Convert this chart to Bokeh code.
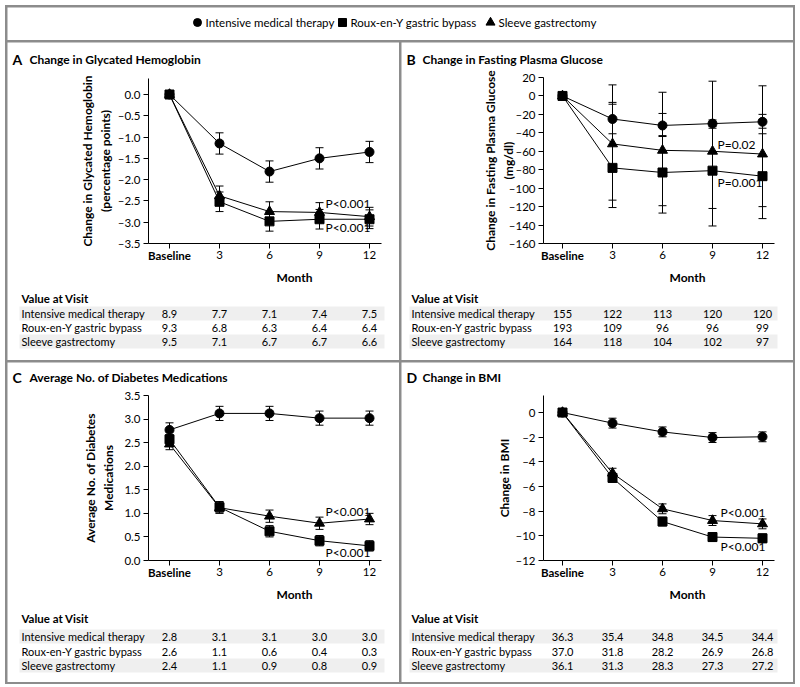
from bokeh.plotting import figure
from bokeh.layouts import column, row
from bokeh.models import Range1d, FixedTicker, CustomJSTickFormatter
from bokeh.core.properties import value
from bokeh.embed import file_html
from bokeh.resources import INLINE

FONT = "Lato"

# ---------------- data ----------------
months = ["Baseline", "3", "6", "9", "12"]
groups = ["Intensive medical therapy", "Roux-en-Y gastric bypass", "Sleeve gastrectomy"]
markers = ["circle", "square", "triangle"]

# A: change in glycated hemoglobin (percentage points)
a_int = [0.0, -1.15, -1.81, -1.50, -1.35]
a_int_err = [0.0, 0.25, 0.25, 0.25, 0.25]
a_roux = [0.0, -2.52, -2.98, -2.93, -2.93]
a_roux_err = [0.0, 0.23, 0.23, 0.23, 0.22]
a_sleeve = [0.0, -2.38, -2.75, -2.77, -2.87]
a_sleeve_err = [0.0, 0.23, 0.23, 0.23, 0.22]
a_table_int = ["8.9", "7.7", "7.1", "7.4", "7.5"]
a_table_roux = ["9.3", "6.8", "6.3", "6.4", "6.4"]
a_table_sleeve = ["9.5", "7.1", "6.7", "6.7", "6.6"]

# B: change in fasting plasma glucose (mg/dl), error bar ends
b_int = [0, -25, -32, -30, -28]
b_int_lo = [0, -41, -44, -33, -35]
b_int_hi = [0, -9, -19, -26, -20]
b_roux = [0, -78, -83, -81, -87]
b_roux_lo = [0, -121, -127, -122, -120]
b_roux_hi = [0, -7, -43, -35, -41]
b_sleeve = [0, -52, -59, -60, -63]
b_sleeve_lo = [0, -113, -119, -141, -133]
b_sleeve_hi = [0, 12, 4, 16, 11]
b_table_int = ["155", "122", "113", "120", "120"]
b_table_roux = ["193", "109", "96", "96", "99"]
b_table_sleeve = ["164", "118", "104", "102", "97"]

# C: average number of diabetes medications
c_int = [2.77, 3.12, 3.12, 3.02, 3.02]
c_int_err = [0.15, 0.15, 0.15, 0.15, 0.15]
c_roux = [2.57, 1.13, 0.62, 0.42, 0.31]
c_roux_err = [0.10, 0.12, 0.12, 0.11, 0.11]
c_sleeve = [2.47, 1.12, 0.94, 0.79, 0.88]
c_sleeve_err = [0.12, 0.12, 0.13, 0.13, 0.12]
c_table_int = ["2.8", "3.1", "3.1", "3.0", "3.0"]
c_table_roux = ["2.6", "1.1", "0.6", "0.4", "0.3"]
c_table_sleeve = ["2.4", "1.1", "0.9", "0.8", "0.9"]

# D: change in BMI
d_int = [0.0, -0.86, -1.57, -2.03, -1.97]
d_int_err = [0.0, 0.4, 0.4, 0.4, 0.4]
d_roux = [0.0, -5.30, -8.84, -10.10, -10.20]
d_roux_err = [0.0, 0.35, 0.35, 0.35, 0.35]
d_sleeve = [0.0, -4.92, -7.81, -8.76, -9.03]
d_sleeve_err = [0.0, 0.4, 0.4, 0.4, 0.4]
d_table_int = ["36.3", "35.4", "34.8", "34.5", "34.4"]
d_table_roux = ["37.0", "31.8", "28.2", "26.9", "26.8"]
d_table_sleeve = ["36.1", "31.3", "28.3", "27.3", "27.2"]

# ---------------- layout constants (pixels) ----------------
PPU = 50.0     # pixels per visit step
PANEL_W = 392


def sym(mean, err):
    return [m - e for m, e in zip(mean, err)], [m + e for m, e in zip(mean, err)]


def make_panel(letter, title, ylabel, yr, yticks, dec, series, pvals, table_rows,
               H, FL, X0, FW, FT, FH, lab_standoff, lab_x, title_x, vav_y, rows_y):
    W = PANEL_W
    y0, y1 = yr
    upp = (y1 - y0) / FH  # data units per pixel (y)

    def X(px):
        return X0 + (px - FL) / PPU

    def Y(py):
        return y1 - (py - FT) * upp

    p = figure(width=W, height=H, x_range=Range1d(X(0), X(W)), y_range=Range1d(Y(H), Y(0)),
               min_border=0, toolbar_location=None, tools="", output_backend="svg")
    p.outline_line_color = None
    p.grid.visible = False
    p.border_fill_color = "white"

    xa = p.xaxis[0]
    xa.fixed_location = y0
    xa.bounds = (X0, X0 + FW / PPU)
    xa.ticker = FixedTicker(ticks=list(range(len(months))))
    xa.major_label_overrides = {i: ("" if i == 0 else m) for i, m in enumerate(months)}
    xa.minor_tick_line_color = None
    xa.major_tick_in = 0
    xa.major_tick_out = 5
    xa.major_label_standoff = 2
    xa.major_label_text_font = FONT
    xa.major_label_text_font_size = "11.5px"
    xa.major_label_text_color = "black"
    xa.axis_line_color = "black"
    xa.major_tick_line_color = "black"

    ya = p.yaxis[0]
    ya.fixed_location = X0
    ya.bounds = (y0, y1)
    ya.ticker = FixedTicker(ticks=yticks)
    ya.formatter = CustomJSTickFormatter(code="""
        const s = Math.abs(tick).toFixed(%d);
        return (tick < -1e-9) ? '\\u2013' + s : s;
    """ % dec)
    ya.minor_tick_line_color = None
    ya.major_tick_in = 0
    ya.major_tick_out = 5
    ya.major_label_standoff = 3
    ya.major_label_text_font = FONT
    ya.major_label_text_font_size = "11.5px"
    ya.major_label_text_color = "black"
    ya.axis_line_color = "black"
    ya.major_tick_line_color = "black"
    ya.axis_label = ylabel
    ya.axis_label_text_font = FONT
    ya.axis_label_text_font_style = "bold"
    ya.axis_label_text_font_size = "12px"
    ya.axis_label_text_color = "black"
    ya.axis_label_standoff = lab_standoff

    sizes = [9, 9, 10]
    xs = list(range(len(months)))
    for (mean, lo, hi) in series:
        p.line(xs, mean, line_color="black", line_width=1)
    for (mean, lo, hi) in series:
        keep = [h - l > 1e-9 for l, h in zip(lo, hi)]
        ex = [x for x, k in zip(xs, keep) if k]
        el = [l for l, k in zip(lo, keep) if k]
        eh = [h for h, k in zip(hi, keep) if k]
        p.segment(x0=ex, y0=el, x1=ex, y1=eh, line_color="black", line_width=1)
        p.scatter(x=ex + ex, y=el + eh, marker="dash", size=8, line_color="black", line_width=1)
    for (mean, lo, hi), mk, sz in zip(series, markers, sizes):
        p.scatter(xs, mean, marker=mk, size=sz, fill_color="black", line_color="black")

    for txt, px_, py_ in pvals:
        p.text(x=[px_], y=[py_], text=[txt], text_font=value(FONT), text_font_size="12px",
               text_align="left", text_baseline="middle", text_color="black")

    # title
    ty = FT - 19 if FT > 35 else FT - 18
    p.text(x=[X(5)], y=[Y(ty)], text=[letter], text_font=value(FONT), text_font_size="14px",
           text_font_style="bold", text_baseline="middle", text_color="black")
    p.text(x=[X(title_x)], y=[Y(ty)], text=[title], text_font=value(FONT), text_font_size="12px",
           text_font_style="bold", text_baseline="middle", text_color="black")
    # bold baseline tick label and x-axis title
    p.text(x=[0], y=[Y(FT + FH + 12)], text=[months[0]], text_font=value(FONT),
           text_font_size="11.5px", text_font_style="bold", text_align="center",
           text_baseline="middle", text_color="black")
    p.text(x=[2.5], y=[Y(FT + FH + 34)], text=["Month"], text_font=value(FONT),
           text_font_size="12px", text_font_style="bold", text_align="center",
           text_baseline="middle", text_color="black")

    # value-at-visit table
    lx = X(lab_x)
    rx = X(FL + FW + 3)
    p.quad(left=[X(lab_x - 2)] * 2, right=[rx] * 2,
           top=[Y(rows_y[0] - 7), Y(rows_y[2] - 7)], bottom=[Y(rows_y[0] + 7), Y(rows_y[2] + 7)],
           fill_color="#efefef", line_color=None)
    p.text(x=[lx], y=[Y(vav_y)], text=["Value at Visit"], text_font=value(FONT), text_font_size="11.5px",
           text_font_style="bold", text_baseline="middle", text_color="black")
    p.text(x=[lx] * 3, y=[Y(r) for r in rows_y], text=groups, text_font=value(FONT),
           text_font_size="11px", text_baseline="middle", text_color="black")
    tx_, ty_, tt_ = [], [], []
    for r, vals in enumerate(table_rows):
        for i, v in enumerate(vals):
            tx_.append(i)
            ty_.append(Y(rows_y[r]))
            tt_.append(v)
    p.text(x=tx_, y=ty_, text=tt_, text_font=value(FONT), text_font_size="11px",
           text_align="center", text_baseline="middle", text_color="black")
    return p


pA = make_panel("A", "Change in Glycated Hemoglobin", "Change in Glycated Hemoglobin\n(percentage points)",
                (-3.5, 0.376), [0, -0.5, -1, -1.5, -2, -2.5, -3, -3.5], 1,
                [(a_int, *sym(a_int, a_int_err)), (a_roux, *sym(a_roux, a_roux_err)),
                 (a_sleeve, *sym(a_sleeve, a_sleeve_err))],
                [("P<0.001", 3.12, -2.57), ("P<0.001", 3.12, -3.12)],
                [a_table_int, a_table_roux, a_table_sleeve],
                318, 141, -0.42, 233, 36, 165, 2, 14, 22, 256, [271, 285, 299])

pB = make_panel("B", "Change in Fasting Plasma Glucose", "Change in Fasting Plasma Glucose\n(mg/dl)",
                (-160, 20), list(range(20, -161, -20)), 0,
                [(b_int, b_int_lo, b_int_hi), (b_roux, b_roux_lo, b_roux_hi),
                 (b_sleeve, b_sleeve_lo, b_sleeve_hi)],
                [("P=0.02", 3.1, -53), ("P=0.001", 3.1, -93.6)],
                [b_table_int, b_table_roux, b_table_sleeve],
                318, 142, -0.38, 231, 35, 166, -10, 10, 21, 256, [271, 285, 299])

pC = make_panel("C", "Average No. of Diabetes Medications", "Average No. of Diabetes\nMedications",
                (0, 3.5), [0, 0.5, 1, 1.5, 2, 2.5, 3, 3.5], 1,
                [(c_int, *sym(c_int, c_int_err)), (c_roux, *sym(c_roux, c_roux_err)),
                 (c_sleeve, *sym(c_sleeve, c_sleeve_err))],
                [("P<0.001", 3.12, 1.05), ("P<0.001", 3.12, 0.16)],
                [c_table_int, c_table_roux, c_table_sleeve],
                320, 141, -0.42, 233, 33, 165, 5, 14, 22, 256, [274, 289, 303])

pD = make_panel("D", "Change in BMI", "Change in BMI",
                (-12, 1.38), [0, -2, -4, -6, -8, -10, -12], 0,
                [(d_int, *sym(d_int, d_int_err)), (d_roux, *sym(d_roux, d_roux_err)),
                 (d_sleeve, *sym(d_sleeve, d_sleeve_err))],
                [("P<0.001", 3.16, -8.14), ("P<0.001", 3.16, -10.84)],
                [d_table_int, d_table_roux, d_table_sleeve],
                320, 142, -0.38, 231, 33, 165, 0, 10, 21, 256, [274, 289, 303])

# ---------------- legend ----------------
LW, LH = 2 * PANEL_W + 2, 33
lg = figure(width=LW, height=LH, x_range=Range1d(0, LW), y_range=Range1d(LH, 0), min_border=0,
            x_axis_type=None, y_axis_type=None, toolbar_location=None, tools="", output_backend="svg")
lg.outline_line_color = None
lg.grid.visible = False
leg_x = [190, 335, 483]
lg.scatter(x=leg_x, y=[15] * 3, marker=markers, size=[8, 8, 9], fill_color="black", line_color="black")
lg.text(x=[x + 8 for x in leg_x], y=[15] * 3, text=groups, text_font=value(FONT), text_font_size="11.5px",
        text_baseline="middle", text_color="black")

top = row(pA, pB, spacing=2)
bottom = row(pC, pD, spacing=2)
page = column(lg, top, bottom, spacing=2,
              styles={"background-color": "#8c8c8c", "padding": "2px", "margin": "5px 0 0 5px"})

open("out.html", "w").write(file_html(page, INLINE))
